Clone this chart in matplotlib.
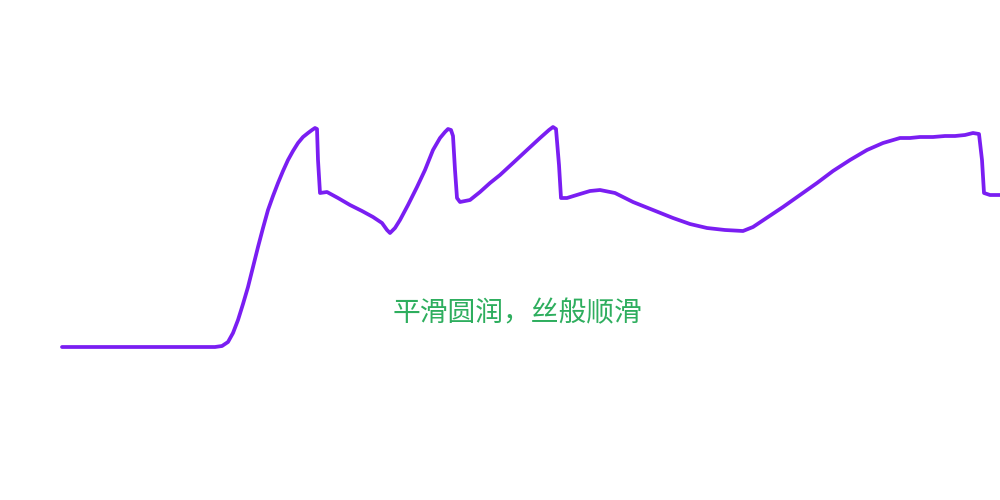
import matplotlib
matplotlib.use('Agg')
import matplotlib.pyplot as plt

# trace: horizontal position and signal level
t = [62, 120, 180, 215, 222, 228, 233, 238, 243, 248, 253, 258, 263, 268, 273, 278, 283, 288, 293, 298,
     303, 308, 312, 315, 317,
     318, 320, 327, 338, 350, 362, 373, 382, 387, 390, 395, 400, 408, 417, 425, 433, 440, 445, 448, 451, 453,
     455, 457, 460, 465, 470, 480, 490, 500, 513, 527, 540, 549, 553, 556,
     559, 561, 567, 580, 590, 600, 615, 633, 653, 673, 690, 707, 725, 743, 753,
     768, 783, 800, 817, 833, 850, 867, 883, 900, 910, 920, 933, 945, 955, 965, 973, 979,
     982, 984, 990, 1000]
level = [153, 153, 153, 153, 154, 158, 167, 180, 196, 213, 233, 253, 272, 290, 304, 317, 329, 340, 349, 357,
         363, 367, 370, 372, 371,
         340, 307, 308, 302, 295, 289, 283, 277, 270, 267, 272, 280, 295, 313, 330, 350, 362, 368, 371, 370, 364,
         330, 302, 298, 299, 300, 308, 317, 325, 337, 350, 362, 370, 373, 371,
         335, 302, 302, 306, 309, 310, 307, 298, 290, 282, 276, 272, 270, 269, 273,
         283, 293, 305, 317, 329, 340, 350, 357, 362, 362, 363, 363, 364, 364, 365, 367, 366,
         340, 307, 305, 305]

purple = '#7A1EF2'
green = '#2EAE5E'

fig = plt.figure(figsize=(10, 5), dpi=100)
ax = fig.add_axes([0, 0, 1, 1])
ax.plot(t, level, color=purple, linewidth=2.7, solid_joinstyle='round', solid_capstyle='round')
ax.text(517, 187, '平滑圆润，丝般顺滑', ha='center', va='center', color=green,
        fontsize=20, family=['Noto Sans CJK SC', 'DejaVu Sans'], fontweight='light')
ax.set_xlim(0, 1000)
ax.set_ylim(0, 500)
ax.axis('off')

fig.savefig('out.png', dpi=100, facecolor='white')
